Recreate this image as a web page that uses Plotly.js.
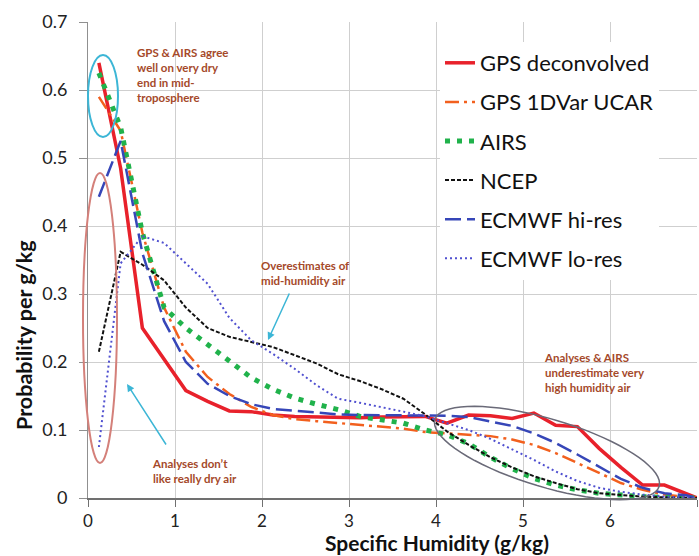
<!DOCTYPE html>
<html><head><meta charset="utf-8">
<script src="https://cdn.plot.ly/plotly-3.0.1.min.js"></script>
<style>
html,body{margin:0;padding:0;background:#fff;}
#chart{width:699px;height:556px;}
</style></head><body><div id="chart"></div>
<script>
// Specific humidity bin centres (g/kg)
const humidity = [0.125,0.375,0.625,0.875,1.125,1.375,1.625,1.875,2.125,2.375,2.625,2.875,3.125,3.375,3.625,3.875,4.125,4.375,4.625,4.875,5.125,5.375,5.625,5.875,6.125,6.375,6.625,6.875,7.0];

const gpsDeconvolved = [0.64,0.485,0.25,0.203,0.158,0.142,0.128,0.127,0.122,0.12,0.119,0.118,0.118,0.119,0.12,0.12,0.11,0.122,0.121,0.117,0.125,0.107,0.105,0.073,0.045,0.019,0.019,0.006,0.0];
const gps1DVarUCAR   = [0.59,0.54,0.39,0.28,0.215,0.178,0.153,0.134,0.122,0.116,0.113,0.11,0.108,0.105,0.102,0.097,0.095,0.092,0.091,0.086,0.078,0.066,0.052,0.037,0.022,0.012,0.005,0.002,0.0];
const airs           = [0.625,0.545,0.39,0.28,0.25,0.225,0.2,0.177,0.16,0.147,0.138,0.13,0.12,0.115,0.11,0.1,0.093,0.08,0.06,0.043,0.029,0.019,0.012,0.007,0.004,0.002,0.001,0.0,0.0];
const ncep           = [0.215,0.362,0.343,0.32,0.28,0.25,0.237,0.23,0.222,0.21,0.198,0.182,0.172,0.16,0.146,0.123,0.098,0.078,0.06,0.045,0.032,0.022,0.013,0.007,0.004,0.002,0.001,0.0,0.0];
const ecmwfHiRes     = [0.443,0.525,0.36,0.26,0.2,0.168,0.15,0.138,0.131,0.128,0.125,0.123,0.122,0.122,0.122,0.122,0.121,0.119,0.113,0.106,0.095,0.081,0.064,0.046,0.028,0.015,0.007,0.004,0.0];
const ecmwfLoRes     = [0.075,0.345,0.385,0.375,0.345,0.315,0.265,0.232,0.212,0.19,0.166,0.146,0.14,0.134,0.127,0.12,0.11,0.1,0.087,0.072,0.056,0.039,0.025,0.015,0.009,0.005,0.002,0.001,0.0];

const seriesNames = ["GPS deconvolved","GPS 1DVar UCAR","AIRS","NCEP","ECMWF hi-res","ECMWF lo-res"];
const seriesValues = [gpsDeconvolved, gps1DVarUCAR, airs, ncep, ecmwfHiRes, ecmwfLoRes];
const seriesStyles = [
  {color:'#E8212B', width:3.5, dash:'solid'},
  {color:'#F2601E', width:2.5, dash:'14px,5px,3px,5px'},
  {color:'#20B24B', width:5,   dash:'5px,7px'},
  {color:'#111111', width:2,   dash:'4px,2px'},
  {color:'#3646B8', width:2.5, dash:'16px,6px'},
  {color:'#5050D0', width:2,   dash:'2px,3px'}
];

const xTickVals = [0,1,2,3,4,5,6,7];
const yTickVals = [0,0.1,0.2,0.3,0.4,0.5,0.6,0.7];

const W=699, H=556, M={l:88,r:2,t:22,b:58};
const PW=W-M.l-M.r, PH=H-M.t-M.b;
const px = x => (x-M.l)/PW;
const py = y => (H-M.b-y)/PH;

const traces = seriesNames.map((n,i)=>({
  type:'scatter', mode:'lines', name:n, x:humidity, y:seriesValues[i],
  legendgroup:'g'+i,
  line:{color:seriesStyles[i].color, width:seriesStyles[i].width, dash:seriesStyles[i].dash}
}));

// rotated ellipse (annotation decoration) in paper coords
function ellipsePath(cx,cy,a,b,deg){
  const th=deg*Math.PI/180; let s='';
  for(let k=0;k<=72;k++){
    const t=k/72*2*Math.PI;
    const X=cx+a*Math.cos(t)*Math.cos(th)-b*Math.sin(t)*Math.sin(th);
    const Y=cy+a*Math.cos(t)*Math.sin(th)+b*Math.sin(t)*Math.cos(th);
    s+=(k===0?'M':'L')+px(X).toFixed(4)+','+py(Y).toFixed(4);
  }
  return s+'Z';
}

const brown='#A5492A', cyan='#3CB6D6';
const noteFont={family:'Lato', size:11.5, color:brown, weight:'bold'};
const titleFont={family:'Lato', size:21.5, color:'#111', weight:'bold'};

const layout={
  width:W, height:H, margin:M,
  paper_bgcolor:'#fff', plot_bgcolor:'#fff',
  showlegend:true,
  legend:{x:px(440), y:py(42), xanchor:'left', yanchor:'top', bgcolor:'#fff', borderwidth:0,
    font:{family:'Lato', size:22, color:'#111'}, itemwidth:30, traceorder:'grouped', tracegroupgap:7.5},
  xaxis:{range:[0,7], tickvals:xTickVals, ticktext:xTickVals.map(String), showgrid:true, gridcolor:'#cfcfcf', gridwidth:1,
    showline:true, linecolor:'#707070', linewidth:1.5, ticks:'outside', ticklen:7, tickcolor:'#707070',
    tickfont:{family:'Lato', size:17, color:'#222'}, zeroline:false, ticklabelstandoff:0},
  yaxis:{range:[0,0.7], tickvals:yTickVals, ticktext:yTickVals.map(v=>v===0?'0':v.toFixed(1)), showgrid:true, gridcolor:'#cfcfcf', gridwidth:1,
    showline:true, linecolor:'#909090', linewidth:1, ticks:'outside', ticklen:8, tickcolor:'#909090',
    tickfont:{family:'Lato', size:18, color:'#222'}, zeroline:false, ticklabelstandoff:8},
  shapes:[
    {type:'circle', xref:'paper', yref:'paper', x0:px(88), x1:px(118), y0:py(137), y1:py(55), line:{color:cyan, width:2}},
    {type:'circle', xref:'paper', yref:'paper', x0:px(83), x1:px(117), y0:py(463), y1:py(173), line:{color:'#D4807A', width:2}},
    {type:'path', xref:'paper', yref:'paper', path:ellipsePath(547,453,117,34,16.6), line:{color:'#6A6A78', width:1.5}}
  ],
  annotations:[
    {xref:'paper', yref:'paper', x:px(135), y:py(44), xanchor:'left', yanchor:'top', align:'left', showarrow:false,
      text:'GPS &amp; AIRS agree<br>well on very dry<br>end in mid-<br>troposphere', font:noteFont},
    {xref:'paper', yref:'paper', x:px(305), y:py(257), xanchor:'center', yanchor:'top', align:'left', showarrow:false,
      text:'Overestimates of<br>mid-humidity air', font:noteFont},
    {xref:'paper', yref:'paper', x:px(194), y:py(455), xanchor:'center', yanchor:'top', align:'left', showarrow:false,
      text:'Analyses don’t<br>like really dry air', font:noteFont},
    {xref:'paper', yref:'paper', x:px(542), y:py(349), xanchor:'left', yanchor:'top', align:'left', showarrow:false,
      text:'Analyses &amp; AIRS<br>underestimate very<br>high humidity air', font:noteFont},
    {xref:'paper', yref:'paper', x:px(268), y:py(340), ax:22, ay:-48, text:'', showarrow:true,
      arrowhead:2, arrowsize:1, arrowwidth:1.5, arrowcolor:cyan},
    {xref:'paper', yref:'paper', x:px(127), y:py(384), ax:40, ay:62, text:'', showarrow:true,
      arrowhead:2, arrowsize:1, arrowwidth:1.5, arrowcolor:cyan},
    {xref:'paper', yref:'paper', x:px(437), y:py(542), xanchor:'center', yanchor:'middle', showarrow:false,
      text:'Specific Humidity (g/kg)', font:Object.assign({}, titleFont, {size:21})},
    {xref:'paper', yref:'paper', x:px(24), y:py(335), xanchor:'center', yanchor:'middle', textangle:-90, showarrow:false,
      text:'Probability per g/kg', font:titleFont}
  ]
};

Plotly.newPlot('chart', traces, layout, {displayModeBar:false, responsive:false});
</script></body></html>
